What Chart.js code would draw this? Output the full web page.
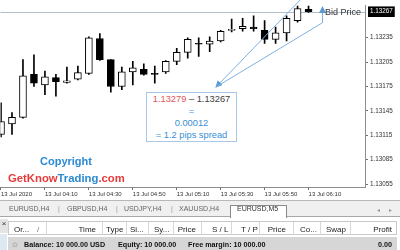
<!DOCTYPE html>
<html><head><meta charset="utf-8">
<script src="https://cdn.jsdelivr.net/npm/chart.js@4.4.1/dist/chart.umd.min.js"></script>
<style>
html,body{margin:0;padding:0;background:#fff;width:400px;height:250px;overflow:hidden;font-family:"Liberation Sans",Arial,sans-serif;}
#wrap{position:relative;width:400px;height:250px;overflow:hidden;}
canvas{position:absolute;left:0;top:0;}
.abs{position:absolute;white-space:nowrap;line-height:1;}
#tabs{position:absolute;left:0;top:200px;width:400px;height:17px;background:#f0f0f0;border-top:1px solid #b8b8b8;border-bottom:1px solid #a8a8a8;box-sizing:border-box;font-size:7px;color:#666;}
#tabs span{position:absolute;top:4px;}
#active{position:absolute;left:230px;top:4px;width:57px;height:13px;background:#fff;border:1px solid #8a8a8a;border-bottom:none;box-sizing:border-box;}
#hdr{position:absolute;left:8px;top:221px;width:389px;height:14px;background:#fff;border:1px solid #c8c8c8;box-sizing:border-box;font-size:8px;color:#222;}
#hdr span{position:absolute;top:3px;}
.sep{position:absolute;top:0;width:1px;height:13px;background:#d8d8d8;}
#bal{position:absolute;left:8px;top:237px;width:389px;height:13px;background:#d6d6d6;font-size:7.2px;font-weight:bold;color:#111;}
#bal span{position:absolute;top:3px;}
</style></head><body>
<div id="wrap">
<canvas id="c" width="400" height="198"></canvas>
<svg width="400" height="198" style="position:absolute;left:0;top:0">
 <defs><marker id="ah" markerWidth="7" markerHeight="7" refX="6" refY="3.5" orient="auto" markerUnits="userSpaceOnUse"><path d="M0,0 L7,3.5 L0,7 z" fill="#5b9bd5"/></marker></defs>
 <line x1="304" y1="-4" x2="216" y2="87" stroke="#7fb0e0" stroke-width="1" marker-end="url(#ah)"/>
 <line x1="322" y1="23" x2="216" y2="87" stroke="#7fb0e0" stroke-width="1"/>
 <line x1="322.5" y1="23" x2="322.5" y2="7" stroke="#7fb0e0" stroke-width="1" marker-end="url(#ah)"/>
</svg>
<div class="abs" style="left:325px;top:8px;font-size:9px;color:#333;">Bid Price</div>
<div class="abs" style="left:146px;top:92px;width:91px;height:50px;border:1px solid #a7c8e8;background:#fff;text-align:center;font-size:9.3px;line-height:12px;color:#3a8ed4;box-sizing:border-box;">
 <div><span style="color:#e0585a">1.13279</span><span style="color:#404040"> – 1.13267</span></div>
 <div>=</div><div>0.00012</div><div>= 1.2 pips spread</div>
</div>
<div class="abs" style="left:40px;top:156px;font-size:11px;font-weight:bold;color:#2a8ad2;">Copyright</div>
<div class="abs" style="left:8px;top:173px;font-size:11.3px;font-weight:bold;"><span style="color:#e53b3b">GetKnow</span><span style="color:#2a8ad2">Trading</span><span style="color:#e53b3b">.com</span></div>

<div id="tabs">
 <span style="left:9px">EURUSD,H4</span><span style="left:58px;color:#999">|</span>
 <span style="left:67px">GBPUSD,H4</span><span style="left:116px;color:#999">|</span>
 <span style="left:124px">USDJPY,H4</span><span style="left:171px;color:#999">|</span>
 <span style="left:179px">XAUUSD,H4</span>
 <div id="active"></div>
 <span style="left:237px;color:#333">EURUSD,M5</span>
 <span style="left:377px;color:#999;font-size:6px;top:5px">◂</span><span style="left:389px;color:#999;font-size:6px;top:5px">▸</span>
</div>
<div class="abs" style="left:0;top:219px;width:8px;height:14px;background:#e4e4e4;font-size:8px;color:#333;text-align:center;line-height:10px;">×</div>
<div class="abs" style="left:0;top:234px;width:7px;height:16px;background:#dde8f3;"></div>
<div id="hdr">
 <div class="sep" style="left:37px"></div><div class="sep" style="left:93px"></div><div class="sep" style="left:117px"></div>
 <div class="sep" style="left:139px"></div><div class="sep" style="left:164px"></div><div class="sep" style="left:192px"></div>
 <div class="sep" style="left:222px"></div><div class="sep" style="left:250px"></div><div class="sep" style="left:284px"></div>
 <div class="sep" style="left:311px"></div><div class="sep" style="left:341px"></div>
 <span style="left:5px">Or...</span><span style="left:28px;color:#777">/</span>
 <span style="right:300px">Time</span><span style="left:97px">Type</span><span style="left:121px">Si...</span>
 <span style="left:145px">Sy...</span><span style="right:200px">Price</span><span style="left:203px">S / L</span>
 <span style="left:232px">T / P</span><span style="right:110px">Price</span><span style="left:291px">Co...</span>
 <span style="left:317px">Swap</span><span style="right:4px">Profit</span>
</div>
<div id="bal">
 <span style="left:4px;color:#999;font-weight:normal;">⊙</span>
 <span style="left:16px">Balance: 10 000.00 USD</span><span style="left:110px">Equity: 10 000.00</span>
 <span style="left:180px">Free margin: 10 000.00</span><span style="right:5px">0.00</span>
</div>
</div>
<script>
// ---- data ----
const candleTimes = ['03:50','03:55','04:00','04:05','04:10','04:15','04:20','04:25','04:30','04:35','04:40','04:45','04:50','04:55','05:00','05:05','05:10','05:15','05:20','05:25','05:30','05:35','05:40','05:45','05:50','05:55','06:00','06:05','06:10'];
const openP  = [1.13116,1.13129,1.13137,1.13190,1.13177,1.13186,1.13180,1.13184,1.13191,1.13234,1.13208,1.13175,1.13193,1.13196,1.13191,1.13193,1.13206,1.13217,1.13228,1.13227,1.13231,1.13244,1.13246,1.13248,1.13244,1.13233,1.13241,1.13256,1.13270];
const highP  = [1.13155,1.13143,1.13208,1.13214,1.13194,1.13190,1.13199,1.13200,1.13236,1.13240,1.13208,1.13199,1.13206,1.13203,1.13200,1.13207,1.13222,1.13235,1.13235,1.13236,1.13244,1.13258,1.13259,1.13262,1.13256,1.13248,1.13262,1.13277,1.13275];
const lowP   = [1.13113,1.13116,1.13136,1.13175,1.13165,1.13163,1.13179,1.13183,1.13190,1.13207,1.13168,1.13171,1.13177,1.13189,1.13179,1.13191,1.13202,1.13210,1.13212,1.13218,1.13230,1.13242,1.13243,1.13243,1.13228,1.13228,1.13231,1.13254,1.13266];
const closeP = [1.13132,1.13137,1.13188,1.13179,1.13187,1.13181,1.13182,1.13192,1.13235,1.13208,1.13175,1.13193,1.13198,1.13190,1.13190,1.13206,1.13217,1.13233,1.13227,1.13231,1.13243,1.13245,1.13249,1.13246,1.13233,1.13241,1.13259,1.13271,1.13267];
const bidPrice = 1.13267;
const priceTicks = [1.13055,1.13085,1.13115,1.13145,1.13175,1.13205,1.13235,1.13267];
const timeTickTimes = ['03:50','04:10','04:30','04:50','05:10','05:30','05:50','06:10'];
const timeTickLabels = ['13 Jul 2020','13 Jul 04:10','13 Jul 04:30','13 Jul 04:50','13 Jul 05:10','13 Jul 05:30','13 Jul 05:50','13 Jul 06:10'];

const idx = candleTimes.map((t,i)=>i);
const bodies = idx.map(i=>({x:i, y:[openP[i], closeP[i]]}));
const wicks = idx.map(i=>({x:i, y:[lowP[i], highP[i]]}));
const bodyColors = idx.map(i=> closeP[i] >= openP[i] ? '#ffffff' : '#000000');
const xTickVals = timeTickTimes.map(t=>candleTimes.indexOf(t));

const bidLine = {
  id:'bidLine',
  beforeDatasetsDraw(chart){
    const {ctx, chartArea:a, scales:{y}} = chart;
    const py = Math.round(y.getPixelForValue(bidPrice)) + 0.5;
    ctx.save(); ctx.strokeStyle='#b3bfcc'; ctx.lineWidth=1;
    ctx.beginPath(); ctx.moveTo(a.left, py); ctx.lineTo(a.right, py); ctx.stroke(); ctx.restore();
  }
};

new Chart(document.getElementById('c'), {
  type:'bar',
  data:{ datasets:[
    {data:bodies, order:1, grouped:false, barThickness:7, minBarLength:1, backgroundColor:bodyColors, borderColor:'#000', borderWidth:1, borderSkipped:false},
    {data:wicks, order:2, grouped:false, barThickness:1, backgroundColor:'#000', borderWidth:0}
  ]},
  options:{
    responsive:false, animation:false, devicePixelRatio:1,
    layout:{padding:0},
    plugins:{legend:{display:false}, tooltip:{enabled:false}},
    scales:{
      x:{type:'linear', min:-0.05, max:33.14, offset:false,
        afterFit(s){ s.height = 11; },
        afterBuildTicks(s){ s.ticks = xTickVals.map(v=>({value:v})); },
        grid:{drawOnChartArea:false, offset:false, tickLength:3, tickColor:'#707070'},
        border:{display:true, color:'#8c8c8c'},
        ticks:{autoSkip:false, maxRotation:0, align:'start', padding:1, color:'#333', font:{family:'Liberation Sans', size:6},
          callback:(v,i)=>timeTickLabels[i]}
      },
      y:{type:'linear', position:'right', min:1.130514, max:1.132743, beginAtZero:false,
        afterFit(s){ s.width = 35; },
        afterBuildTicks(s){ s.ticks = priceTicks.map(v=>({value:v})); },
        grid:{drawOnChartArea:false, tickLength:3, tickColor:c=> (c.tick && c.tick.value===bidPrice) ? 'rgba(0,0,0,0)' : '#707070'},
        border:{display:true, color:'#8c8c8c'},
        ticks:{padding:2, font:{family:'Liberation Sans', size:6.3},
          color:c=> (c.tick && c.tick.value===bidPrice) ? '#ffffff' : '#333',
          showLabelBackdrop:c=> !!(c.tick && c.tick.value===bidPrice),
          backdropColor:'#000', backdropPadding:{x:2,y:1.5},
          callback:v=>Number(v).toFixed(5)}
      }
    }
  },
  plugins:[bidLine]
});
</script>
</body></html>
